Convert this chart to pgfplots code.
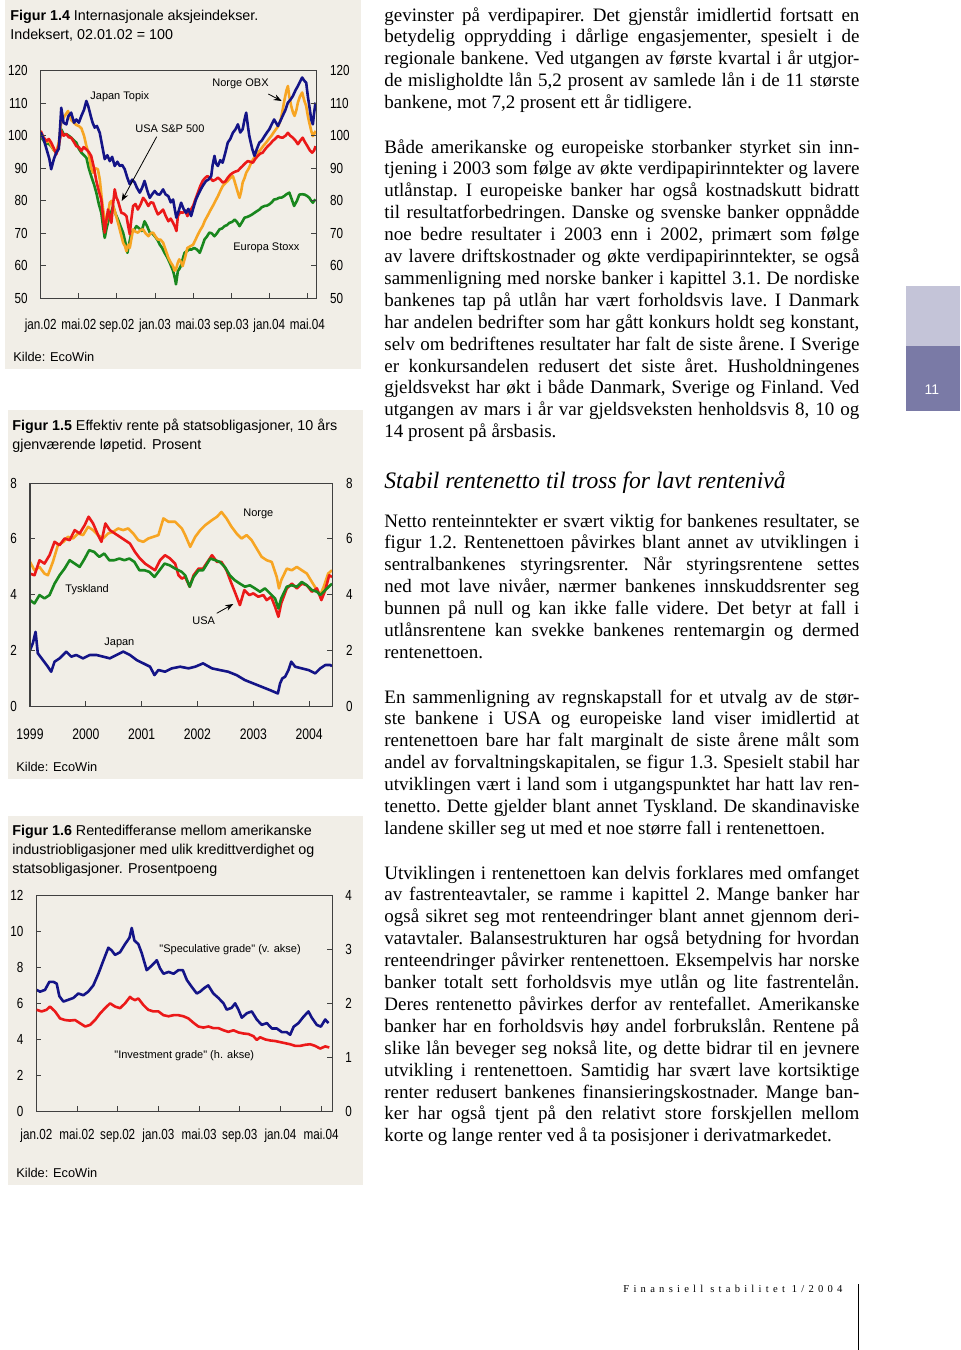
\documentclass[border=0pt]{standalone}
\usepackage{fontspec}
\setmainfont{Liberation Serif}
\newfontfamily\sansf{Liberation Sans}
\newfontfamily\narrowf[FakeStretch=0.8]{Liberation Sans}
\newfontfamily\spacedf[LetterSpace=40]{Liberation Serif}
\usepackage{pgfplots}
\pgfplotsset{compat=1.18}
\usetikzlibrary{arrows.meta}
\definecolor{panel}{RGB}{241,238,231}
\definecolor{cnavy}{RGB}{20,20,135}
\definecolor{cred}{RGB}{235,25,25}
\definecolor{corange}{RGB}{247,165,35}
\definecolor{cgreen}{RGB}{25,135,30}
\definecolor{tablight}{RGB}{196,196,216}
\definecolor{tabdark}{RGB}{122,122,166}
\newcommand\tickfont{\fontsize{7.3}{8}\selectfont\narrowf}
\newcommand\annot{\fontsize{5.5}{6.5}\selectfont\sansf}
\newcommand\titlef{\fontsize{7.15}{9.7}\selectfont\sansf}
\newcommand\kildef{\fontsize{6.4}{7}\selectfont\sansf}
\newcommand\bodyf{\fontsize{9.5}{10.95}\selectfont\rmfamily\frenchspacing}
\newcommand\jl[1]{{\spaceskip=0pt\xspaceskip=0pt\makebox[237.5pt][s]{#1}}}
\newcommand\nl[1]{{\spaceskip=0pt\xspaceskip=0pt #1}}
\pgfplotsset{panelax/.style={scale only axis, anchor=south west,
  axis line style={black!75,line width=0.5pt},
  tick style={black!75,line width=0.5pt}, major tick length=2.5pt,
  tick label style={font=\tickfont},
  /pgf/number format/assume math mode=true,
  /pgf/number format/1000 sep={}},
  lineA/.style={line width=1.3pt, line join=round}}
\begin{document}
\begin{tikzpicture}
\path[use as bounding box] (0,0) rectangle (480pt,-675pt);
\begin{scope}[x=0.5pt,y=-0.5pt]
\fill[panel] (5,0) rectangle (361,369);
\fill[panel] (8,410) rectangle (363,779);
\fill[panel] (8,816) rectangle (363,1185);
\end{scope}

% ---------------- Figur 1.4 ----------------
\begin{axis}[panelax, at={(20.35pt,-149.15pt)}, width=137.65pt, height=113.8pt,
  xmin=0, xmax=28.9, ymin=50, ymax=120, ytick={50,60,...,120},
  xtick={0,4,...,28}, xticklabels={jan.02,mai.02,sep.02,jan.03,mai.03,sep.03,jan.04,mai.04},
  xtick pos=left, ytick pos=both, yticklabel pos=left,
  xticklabel style={yshift=-7pt}, yticklabel style={xshift=-3pt}]
\addplot[lineA, cgreen] coordinates {(0,99.9)(0.3,98.5)(0.6,97.5)(0.85,97.5)(1.1,96.8)(1.4,95.5)(1.64,94.8)(1.9,97)(2.16,102)(2.4,100.5)(2.69,100.5)(2.95,100)(3.2,99.4)(3.5,98.5)(3.74,97.9)(4.0,96)(4.27,94.8)(4.55,94)(4.8,93.2)(5.05,90)(5.3,87.6)(5.6,85)(5.84,82.5)(6.1,79)(6.36,76.3)(6.55,72)(6.72,68.6)(6.95,72)(7.14,74.2)(7.35,76)(7.6,78.4)(7.85,76)(8.12,74.2)(8.4,72)(8.65,70.2)(8.9,67)(9.1,64.0)(9.3,67)(9.52,70.2)(9.8,71)(10.05,72.2)(10.35,71.5)(10.6,70.7)(10.9,73.7)(11.2,72)(11.45,70.2)(11.7,70)(11.97,69.1)(12.25,68)(12.5,66.5)(12.75,65.5)(13.0,64.0)(13.3,62.5)(13.55,60.9)(13.75,59.5)(13.9,58.4)(14.1,56)(14.2,54.3)(14.4,58.4)(14.55,59)(14.7,59.9)(14.9,62)(15.1,64)(15.35,64.5)(15.6,65)(15.85,65)(16.1,65.5)(16.4,65)(16.7,64)(16.95,66)(17.2,68.1)(17.45,69)(17.7,70.2)(17.95,70)(18.24,69.1)(18.5,70)(18.77,71.2)(19.05,71.5)(19.3,72.2)(19.55,72.5)(19.8,73.2)(20.1,73.5)(20.35,74.2)(20.6,73.5)(20.87,72.2)(21.15,73.5)(21.4,74.8)(21.65,75)(21.9,75.3)(22.2,75.8)(22.44,76.3)(22.7,76.8)(22.96,77.3)(23.2,78)(23.5,78.4)(23.75,78.5)(24.0,78.9)(24.25,79.5)(24.5,80.4)(24.75,80.5)(25.0,80.9)(25.3,81)(25.55,81.4)(25.8,82)(26.1,82.5)(26.35,80.5)(26.6,78.4)(26.9,80)(27.15,81.9)(27.45,82)(27.7,81.9)(27.95,81.5)(28.2,80.9)(28.4,80)(28.57,79.4)(28.7,80)(28.85,80.4)};
\addplot[lineA, corange] coordinates {(0,100.5)(0.3,99)(0.6,98)(0.9,98.5)(1.1,97)(1.4,95.5)(1.64,95)(1.9,98)(2.16,104.3)(2.5,106)(2.87,107.6)(3.2,104.8)(3.5,104)(3.74,103.3)(4.0,103)(4.27,102.3)(4.55,100)(4.8,96.8)(5.0,95)(5.14,92.8)(5.3,90)(5.5,88.6)(5.75,90)(6.0,89.7)(6.2,86.6)(6.4,81)(6.55,77.3)(6.7,75)(6.9,73.2)(7.05,76)(7.25,79.4)(7.45,80)(7.6,78.4)(7.85,76)(8.12,73.2)(8.4,70)(8.65,67.1)(8.85,66)(9.0,64.5)(9.2,66.5)(9.35,65.5)(9.5,68)(9.7,71.2)(9.95,70.5)(10.2,70.2)(10.5,71)(10.75,71.2)(11.0,70)(11.3,69.1)(11.55,70)(11.8,70.2)(12.05,69)(12.3,68.1)(12.6,68)(12.85,67.1)(13.1,65)(13.4,62.5)(13.65,61)(13.9,59.9)(14.05,58.5)(14.2,58.9)(14.4,61)(14.55,62)(14.75,61)(14.9,59.9)(15.15,62.5)(15.4,65.5)(15.7,66)(16.0,66.5)(16.25,68)(16.5,69.6)(16.75,71)(17.0,72.2)(17.25,74)(17.5,75.3)(17.8,77)(18.07,78.4)(18.35,80)(18.6,81.4)(18.85,83)(19.1,84.5)(19.4,85.5)(19.64,86.1)(19.9,87)(20.17,87.6)(20.35,86)(20.5,84.5)(20.7,82.5)(20.87,80.9)(21.05,83)(21.2,85.6)(21.4,87)(21.57,88.6)(21.85,90)(22.1,91.7)(22.35,93)(22.6,93.8)(22.85,95)(23.1,95.8)(23.4,97)(23.67,97.9)(23.95,99)(24.2,99.9)(24.45,101)(24.7,102)(24.95,103)(25.2,105)(25.4,108)(25.6,111.2)(25.8,114)(25.95,115.3)(26.1,112)(26.3,109.1)(26.5,107)(26.65,106.1)(26.85,108)(27.0,110.2)(27.2,112)(27.45,113.3)(27.65,111)(27.87,109.1)(28.05,106)(28.2,104)(28.4,101.5)(28.57,99.9)(28.7,100.5)(28.85,101.5)};
\addplot[lineA, cred] coordinates {(0,101.5)(0.3,99.5)(0.6,98.4)(0.85,99)(1.1,97.9)(1.4,96)(1.64,94.3)(1.9,97)(2.16,101.5)(2.4,100)(2.69,100.5)(2.95,99.5)(3.2,99.4)(3.5,98)(3.74,96.8)(4.0,96.5)(4.27,95.3)(4.5,96.5)(4.79,95.8)(5.05,95)(5.3,93.8)(5.6,90)(5.84,86.1)(6.1,83)(6.36,80.4)(6.55,75)(6.72,70.2)(6.9,74)(7.07,77.3)(7.25,75)(7.42,73.2)(7.6,79)(7.77,83.5)(7.95,81)(8.12,79.9)(8.3,78)(8.47,76.3)(8.75,76)(9.0,75.3)(9.2,72)(9.35,69.7)(9.5,74)(9.7,78.4)(9.95,79)(10.2,77.3)(10.5,79)(10.75,80.9)(11.0,80)(11.3,78.4)(11.55,79.5)(11.8,79.4)(12.05,77.5)(12.3,75.8)(12.6,76.5)(12.85,77.3)(13.1,75.5)(13.4,73.7)(13.65,74.5)(13.9,73.2)(14.1,72)(14.25,70.7)(14.4,75.3)(14.65,76.5)(14.9,76.3)(15.15,77)(15.4,75.3)(15.7,77)(16.0,78.4)(16.25,80.5)(16.5,82.5)(16.75,84.5)(17.0,86.1)(17.25,87)(17.5,87.6)(17.8,87)(18.07,86.1)(18.35,86.5)(18.6,87.1)(18.85,86.5)(19.1,85.6)(19.4,86)(19.64,87.1)(19.9,88)(20.17,88.6)(20.45,89)(20.7,89.2)(20.95,90)(21.2,90.7)(21.45,91.5)(21.74,92.2)(22.0,92)(22.27,91.7)(22.55,93)(22.8,93.8)(23.05,94.5)(23.3,94.8)(23.6,96)(23.84,96.8)(24.1,97.5)(24.35,98.4)(24.6,99)(24.9,99.9)(25.15,99.5)(25.4,99.4)(25.7,100)(25.95,100.9)(26.2,100)(26.47,99.4)(26.75,98.5)(27.0,97.4)(27.25,98.5)(27.5,99.4)(27.75,98)(28.0,96.8)(28.25,95.5)(28.5,94.8)(28.7,95.5)(28.85,96.8)};
\addplot[lineA, cnavy] coordinates {(0,101)(0.3,99)(0.6,96)(0.9,93)(1.1,89.7)(1.4,93)(1.64,94.8)(1.9,96)(2.16,108.6)(2.4,104)(2.69,103.5)(2.9,106)(3.2,107.1)(3.5,104)(3.74,105)(4.0,104)(4.27,106.1)(4.55,108)(4.79,110.7)(5.0,109)(5.25,106.1)(5.45,104)(5.67,102.5)(5.9,103)(6.2,100.9)(6.45,97)(6.72,92.8)(7.0,94)(7.25,92.2)(7.5,93.5)(7.77,90.7)(8.05,92)(8.3,90.7)(8.55,91)(8.82,89.7)(9.1,87)(9.35,85.1)(9.6,86.5)(9.87,85.6)(10.1,84)(10.4,82.5)(10.65,84)(10.9,86.1)(11.2,83)(11.45,80.9)(11.7,82)(11.97,83)(12.25,82)(12.5,81.9)(12.85,83.5)(13.1,82)(13.4,81.4)(13.65,79.5)(13.9,80.4)(14.1,77)(14.24,74.8)(14.5,77)(14.74,79.4)(15.0,77.5)(15.26,76.3)(15.5,77.5)(15.79,75.3)(16.05,78)(16.3,80.4)(16.55,82)(16.8,83.5)(17.1,85)(17.36,86.1)(17.6,86.5)(17.9,87.6)(18.05,91)(18.24,93.8)(18.4,91.5)(18.6,90.7)(18.85,92.5)(19.1,91.7)(19.4,95)(19.64,97.9)(19.9,99)(20.17,100.9)(20.45,102)(20.7,103.5)(20.95,101)(21.2,102)(21.4,105)(21.57,107.1)(21.75,103)(21.9,99.9)(22.2,96)(22.44,93.8)(22.7,96)(22.96,97.9)(23.2,98.5)(23.5,99.9)(23.75,101)(24.0,102)(24.25,103.5)(24.5,105)(24.7,104)(24.9,103)(25.15,104.5)(25.4,106.1)(25.7,108)(25.95,110.2)(26.2,111)(26.47,112.2)(26.75,114)(27.0,115.3)(27.2,116.5)(27.45,117.9)(27.65,117)(27.87,116.3)(28.05,112)(28.2,109.1)(28.4,105)(28.57,103.5)(28.7,107)(28.85,110.2)};
\end{axis}
\begin{axis}[panelax, at={(20.35pt,-149.15pt)}, width=137.65pt, height=113.8pt,
  xmin=0, xmax=28.9, ymin=50, ymax=120, ytick={50,60,...,120}, xtick=\empty,
  yticklabel pos=right, yticklabel style={xshift=3.5pt}]
\end{axis}

% ---------------- Figur 1.5 ----------------
\begin{axis}[panelax, at={(15pt,-353pt)}, width=151pt, height=111.5pt,
  xmin=1999, xmax=2004.41, ymin=0, ymax=8, ytick={0,2,...,8},
  xtick={1999,2000,...,2004}, xticklabels={1999,2000,2001,2002,2003,2004},
  xtick pos=left, ytick pos=both, yticklabel pos=left,
  xticklabel style={yshift=-8pt, font=\fontsize{7.6}{9}\selectfont\narrowf}, yticklabel style={xshift=-3pt}]
\addplot[lineA, corange] coordinates {(1999.0,5.17)(1999.08,4.87)(1999.17,4.99)(1999.26,4.75)(1999.32,4.69)(1999.41,5.17)(1999.5,5.77)(1999.6,5.89)(1999.68,6.07)(1999.77,6.01)(1999.86,6.19)(1999.95,6.13)(2000.04,6.43)(2000.13,6.31)(2000.22,6.13)(2000.31,6.01)(2000.4,6.19)(2000.49,6.25)(2000.58,6.37)(2000.67,6.31)(2000.76,6.37)(2000.85,6.19)(2000.94,5.95)(2001.03,5.89)(2001.12,6.01)(2001.21,6.07)(2001.3,6.13)(2001.39,6.73)(2001.48,6.61)(2001.6,6.61)(2001.66,6.49)(2001.72,6.37)(2001.78,6.13)(2001.87,5.71)(2001.96,6.07)(2002.05,6.31)(2002.14,6.49)(2002.26,6.67)(2002.35,6.79)(2002.43,6.96)(2002.52,6.73)(2002.61,6.43)(2002.7,6.19)(2002.79,6.01)(2002.88,6.13)(2002.97,5.95)(2003.06,5.65)(2003.15,5.35)(2003.24,5.23)(2003.33,5.17)(2003.42,4.63)(2003.46,4.22)(2003.5,4.51)(2003.6,4.93)(2003.69,4.87)(2003.78,4.99)(2003.87,4.87)(2003.96,4.75)(2004.05,4.45)(2004.14,4.16)(2004.2,3.98)(2004.26,4.27)(2004.34,4.75)(2004.41,4.87)};
\addplot[lineA, cred] coordinates {(1999.0,4.75)(1999.08,4.69)(1999.17,5.23)(1999.26,5.11)(1999.35,5.41)(1999.44,5.89)(1999.53,5.77)(1999.62,6.01)(1999.71,5.95)(1999.8,6.31)(1999.89,6.19)(1999.98,6.49)(2000.05,6.79)(2000.13,6.55)(2000.22,6.13)(2000.28,5.89)(2000.35,6.55)(2000.43,6.31)(2000.52,6.19)(2000.61,6.07)(2000.7,5.95)(2000.79,5.83)(2000.88,5.53)(2000.97,5.29)(2001.06,5.11)(2001.15,4.99)(2001.24,4.87)(2001.33,5.23)(2001.42,5.41)(2001.51,5.29)(2001.6,5.11)(2001.66,4.69)(2001.72,4.57)(2001.78,4.63)(2001.86,4.28)(2001.93,4.69)(2002.02,4.93)(2002.1,4.93)(2002.2,5.23)(2002.26,5.41)(2002.35,5.17)(2002.43,5.17)(2002.52,4.87)(2002.61,4.39)(2002.68,4.04)(2002.76,3.62)(2002.84,4.16)(2002.93,3.98)(2003.0,4.04)(2003.09,3.92)(2003.18,3.98)(2003.24,3.8)(2003.32,3.92)(2003.39,3.56)(2003.45,3.2)(2003.5,3.68)(2003.6,4.22)(2003.69,4.39)(2003.78,4.22)(2003.87,4.39)(2003.96,4.33)(2004.05,4.1)(2004.14,4.22)(2004.22,3.8)(2004.29,4.16)(2004.36,4.69)(2004.41,4.63)};
\addplot[lineA, cgreen] coordinates {(1999.0,3.8)(1999.08,3.68)(1999.17,3.98)(1999.26,3.86)(1999.35,3.98)(1999.44,4.39)(1999.53,4.69)(1999.62,4.93)(1999.71,5.23)(1999.8,5.11)(1999.89,4.99)(1999.98,5.29)(2000.06,5.59)(2000.15,5.53)(2000.24,5.35)(2000.33,5.47)(2000.42,5.23)(2000.51,5.23)(2000.6,5.29)(2000.69,5.23)(2000.78,5.29)(2000.87,5.17)(2000.96,4.87)(2001.05,4.87)(2001.14,4.81)(2001.23,4.63)(2001.32,4.87)(2001.41,5.11)(2001.5,5.05)(2001.6,4.93)(2001.66,4.87)(2001.72,4.81)(2001.78,4.69)(2001.86,4.28)(2001.93,4.63)(2002.02,4.87)(2002.1,4.87)(2002.23,5.29)(2002.32,5.23)(2002.4,5.17)(2002.49,4.99)(2002.58,4.69)(2002.67,4.51)(2002.76,4.39)(2002.85,4.28)(2002.94,4.33)(2003.03,4.22)(2003.12,4.10)(2003.21,4.22)(2003.3,4.04)(2003.39,3.86)(2003.45,3.5)(2003.5,3.86)(2003.6,4.28)(2003.69,4.33)(2003.78,4.28)(2003.87,4.45)(2003.96,4.33)(2004.05,4.16)(2004.14,4.10)(2004.2,3.98)(2004.29,4.16)(2004.41,4.39)};
\addplot[lineA, cnavy] coordinates {(1999.0,2.0)(1999.05,2.25)(1999.1,2.66)(1999.14,1.89)(1999.23,1.65)(1999.32,1.41)(1999.38,1.23)(1999.44,1.59)(1999.53,1.71)(1999.65,1.95)(1999.74,1.77)(1999.83,1.83)(1999.95,1.71)(2000.07,1.83)(2000.19,1.83)(2000.31,1.77)(2000.43,1.71)(2000.55,1.83)(2000.67,1.95)(2000.79,1.83)(2000.91,1.65)(2001.03,1.53)(2001.15,1.41)(2001.23,1.11)(2001.3,1.29)(2001.42,1.23)(2001.54,1.35)(2001.69,1.41)(2001.84,1.35)(2001.96,1.41)(2002.1,1.53)(2002.26,1.35)(2002.4,1.29)(2002.55,1.23)(2002.7,1.11)(2002.85,0.93)(2003.0,0.81)(2003.15,0.69)(2003.3,0.57)(2003.44,0.45)(2003.48,0.81)(2003.52,0.99)(2003.57,1.05)(2003.63,1.29)(2003.68,1.59)(2003.75,1.41)(2003.87,1.35)(2003.99,1.29)(2004.11,1.17)(2004.2,1.35)(2004.29,1.47)(2004.38,1.47)(2004.41,1.43)};
\end{axis}
\begin{axis}[panelax, at={(15pt,-353pt)}, width=151pt, height=111.5pt,
  xmin=1999, xmax=2004.41, ymin=0, ymax=8, ytick={0,2,...,8}, xtick=\empty,
  yticklabel pos=right, yticklabel style={xshift=3.5pt}]
\end{axis}

% ---------------- Figur 1.6 ----------------
\begin{axis}[panelax, at={(18.17pt,-555.5pt)}, width=148pt, height=107.67pt,
  xmin=0, xmax=29.1, ymin=0, ymax=12, ytick={0,2,...,12},
  xtick={0,4,...,28}, xticklabels={jan.02,mai.02,sep.02,jan.03,mai.03,sep.03,jan.04,mai.04},
  xtick pos=left, ytick pos=left,
  xticklabel style={yshift=-5.5pt}, yticklabel style={xshift=-3pt}]
\addplot[lineA, cnavy] coordinates {(0.03,6.75)(0.36,6.65)(0.85,6.75)(1.28,7.2)(1.67,7.2)(2.0,7.1)(2.26,6.4)(2.66,6.1)(3.15,6.2)(3.64,6.3)(4.13,6.55)(4.62,6.45)(5.1,6.65)(5.6,7.0)(6.1,7.65)(6.6,8.4)(7.08,9.1)(7.4,8.95)(7.74,8.7)(8.23,8.85)(8.72,9.3)(9.15,9.65)(9.38,10.2)(9.64,9.5)(10.03,9.3)(10.36,8.8)(10.85,7.85)(11.34,8.1)(11.84,8.4)(12.16,7.95)(12.5,7.65)(13.0,7.75)(13.5,7.65)(13.97,7.85)(14.4,7.85)(14.8,7.3)(15.3,6.9)(15.77,6.55)(16.1,6.65)(16.5,6.85)(16.9,7.0)(17.4,6.55)(17.9,6.3)(18.4,6.0)(18.72,5.65)(19.2,5.75)(19.54,6.0)(19.87,5.65)(20.2,5.2)(20.7,5.45)(21.18,5.55)(21.67,5.1)(22.16,4.8)(22.66,4.9)(23.15,4.6)(23.64,4.6)(24.13,4.4)(24.6,4.4)(24.95,4.25)(25.3,4.7)(25.77,4.9)(26.26,5.25)(26.75,5.55)(27.08,5.2)(27.57,4.8)(27.97,4.7)(28.4,5.1)(28.72,4.9)};
\end{axis}
\begin{axis}[panelax, at={(18.17pt,-555.5pt)}, width=148pt, height=107.67pt,
  xmin=0, xmax=29.1, ymin=0, ymax=4, ytick={0,1,...,4}, xtick=\empty,
  ytick pos=right, yticklabel pos=right, yticklabel style={xshift=3pt}]
\addplot[lineA, cred] coordinates {(0.03,1.88)(0.52,1.85)(1.0,1.88)(1.34,1.94)(1.84,1.85)(2.33,1.72)(2.82,1.69)(3.3,1.68)(3.8,1.69)(4.3,1.63)(4.8,1.57)(5.28,1.60)(5.77,1.69)(6.26,1.81)(6.75,1.91)(7.25,2.0)(7.74,1.94)(8.23,1.91)(8.72,2.0)(9.21,2.12)(9.38,2.09)(9.7,2.06)(10.03,2.09)(10.52,1.97)(11.0,1.88)(11.5,1.85)(12.0,1.85)(12.5,1.78)(13.0,1.76)(13.48,1.78)(13.97,1.78)(14.46,1.76)(14.95,1.72)(15.44,1.64)(15.93,1.57)(16.43,1.55)(16.92,1.57)(17.4,1.54)(17.9,1.54)(18.4,1.50)(18.88,1.47)(19.38,1.50)(19.87,1.46)(20.36,1.44)(20.85,1.43)(21.34,1.39)(21.67,1.32)(22.0,1.37)(22.5,1.33)(23.0,1.31)(23.48,1.30)(23.97,1.28)(24.46,1.26)(24.95,1.24)(25.44,1.21)(25.93,1.21)(26.43,1.23)(26.92,1.24)(27.4,1.21)(27.9,1.16)(28.4,1.20)(28.8,1.18)};
\end{axis}

\begin{scope}[x=0.5pt,y=-0.5pt]
% titles
\node[anchor=base west, inner sep=0, font=\titlef] at (10,20) {\bfseries Figur 1.4\mdseries\ Internasjonale aksjeindekser.};
\node[anchor=base west, inner sep=0, font=\titlef] at (10,39.5) {Indeksert, 02.01.02 = 100};
\node[anchor=base west, inner sep=0, font=\titlef] at (12,430.7) {\bfseries Figur 1.5\mdseries\ Effektiv rente på statsobligasjoner, 10 års};
\node[anchor=base west, inner sep=0, font=\titlef] at (12,449.5) {gjenværende løpetid. Prosent};
\node[anchor=base west, inner sep=0, font=\titlef] at (12,835) {\bfseries Figur 1.6\mdseries\ Rentedifferanse mellom amerikanske};
\node[anchor=base west, inner sep=0, font=\titlef] at (12,854.3) {industriobligasjoner med ulik kredittverdighet og};
\node[anchor=base west, inner sep=0, font=\titlef] at (12,873.5) {statsobligasjoner. Prosentpoeng};
% sources
\node[anchor=base west, inner sep=0, font=\kildef] at (13,361) {Kilde: EcoWin};
\node[anchor=base west, inner sep=0, font=\kildef] at (16,771.7) {Kilde: EcoWin};
\node[anchor=base west, inner sep=0, font=\kildef] at (16,1177.7) {Kilde: EcoWin};
% annotations chart 1
\node[anchor=base west, inner sep=0, font=\annot] at (90,99.3) {Japan Topix};
\node[anchor=base west, inner sep=0, font=\annot] at (135,132.7) {USA S\&P 500};
\node[anchor=base west, inner sep=0, font=\annot] at (212,86) {Norge OBX};
\node[anchor=base west, inner sep=0, font=\annot] at (233,250) {Europa Stoxx};
\draw[line width=0.4pt, -{Stealth[length=4pt,width=3pt]}] (156.7,136.7) -- (121.7,201);
\draw[line width=0.4pt, -{Stealth[length=4pt,width=3pt]}] (268.3,94) -- (281.7,101);
% annotations chart 2
\node[anchor=base west, inner sep=0, font=\annot] at (243,516.7) {Norge};
\node[anchor=base west, inner sep=0, font=\annot] at (65,592.7) {Tyskland};
\node[anchor=base west, inner sep=0, font=\annot] at (192,624) {USA};
\node[anchor=base west, inner sep=0, font=\annot] at (104,645) {Japan};
\draw[line width=0.4pt, -{Stealth[length=4pt,width=3pt]}] (216.7,613.3) -- (233.3,604);
% annotations chart 3
\node[anchor=base west, inner sep=0, font=\annot] at (159,952.7) {"Speculative grade" (v. akse)};
\node[anchor=base west, inner sep=0, font=\annot] at (114,1058.3) {"Investment grade" (h. akse)};

% body text
\node[anchor=base west, inner sep=0, text width=237.5pt, align=left, font=\bodyf] at (384,21) {%
\jl{gevinster på verdipapirer. Det gjenstår imidlertid fortsatt en}\\
\jl{betydelig opprydding i dårlige engasjementer, spesielt i de}\\
\jl{regionale bankene. Ved utgangen av første kvartal i år utgjor-}\\
\jl{de misligholdte lån 5,2 prosent av samlede lån i de 11 største}\\
\nl{bankene, mot 7,2 prosent ett år tidligere.}};
\node[anchor=base west, inner sep=0, text width=237.5pt, align=left, font=\bodyf] at (384,153) {%
\jl{Både amerikanske og europeiske storbanker styrket sin inn-}\\
\jl{tjening i 2003 som følge av økte verdipapirinntekter og lavere}\\
\jl{utlånstap. I europeiske banker har også kostnadskutt bidratt}\\
\jl{til resultatforbedringen. Danske og svenske banker oppnådde}\\
\jl{noe bedre resultater i 2003 enn i 2002, primært som følge}\\
\jl{av lavere driftskostnader og økte verdipapirinntekter, se også}\\
\jl{sammenligning med norske banker i kapittel 3.1. De nordiske}\\
\jl{bankenes tap på utlån har vært forholdsvis lave. I Danmark}\\
\jl{har andelen bedrifter som har gått konkurs holdt seg konstant,}\\
\jl{selv om bedriftenes resultater har falt de siste årene. I Sverige}\\
\jl{er konkursandelen redusert det siste året. Husholdningenes}\\
\jl{gjeldsvekst har økt i både Danmark, Sverige og Finland. Ved}\\
\jl{utgangen av mars i år var gjeldsveksten henholdsvis 8, 10 og}\\
\nl{14 prosent på årsbasis.}};
\node[anchor=base west, inner sep=0, font=\fontsize{11.8}{13}\selectfont\itshape] at (384,488) {Stabil rentenetto til tross for lavt rentenivå};
\node[anchor=base west, inner sep=0, text width=237.5pt, align=left, font=\bodyf] at (384,527) {%
\jl{Netto renteinntekter er svært viktig for bankenes resultater, se}\\
\jl{figur 1.2. Rentenettoen påvirkes blant annet av utviklingen i}\\
\jl{sentralbankenes styringsrenter. Når styringsrentene settes}\\
\jl{ned mot lave nivåer, nærmer bankenes innskuddsrenter seg}\\
\jl{bunnen på null og kan ikke falle videre. Det betyr at fall i}\\
\jl{utlånsrentene kan svekke bankenes rentemargin og dermed}\\
\nl{rentenettoen.}};
\node[anchor=base west, inner sep=0, text width=237.5pt, align=left, font=\bodyf] at (384,703) {%
\jl{En sammenligning av regnskapstall for et utvalg av de stør-}\\
\jl{ste bankene i USA og europeiske land viser imidlertid at}\\
\jl{rentenettoen bare har falt marginalt de siste årene målt som}\\
\jl{andel av forvaltningskapitalen, se figur 1.3. Spesielt stabil har}\\
\jl{utviklingen vært i land som i utgangspunktet har hatt lav ren-}\\
\jl{tenetto. Dette gjelder blant annet Tyskland. De skandinaviske}\\
\nl{landene skiller seg ut med et noe større fall i rentenettoen.}};
\node[anchor=base west, inner sep=0, text width=237.5pt, align=left, font=\bodyf] at (384,879) {%
\jl{Utviklingen i rentenettoen kan delvis forklares med omfanget}\\
\jl{av fastrenteavtaler, se ramme i kapittel 2. Mange banker har}\\
\jl{også sikret seg mot renteendringer blant annet gjennom deri-}\\
\jl{vatavtaler. Balansestrukturen har også betydning for hvordan}\\
\jl{renteendringer påvirker rentenettoen. Eksempelvis har norske}\\
\jl{banker totalt sett forholdsvis mye utlån og lite fastrentelån.}\\
\jl{Deres rentenetto påvirkes derfor av rentefallet. Amerikanske}\\
\jl{banker har en forholdsvis høy andel forbrukslån. Rentene på}\\
\jl{slike lån beveger seg nokså lite, og dette bidrar til en jevnere}\\
\jl{utvikling i rentenettoen. Samtidig har svært lave kortsiktige}\\
\jl{renter redusert bankenes finansieringskostnader. Mange ban-}\\
\jl{ker har også tjent på den relativt store forskjellen mellom}\\
\nl{korte og lange renter ved å ta posisjoner i derivatmarkedet.}};
% tab and footer
\fill[tablight] (906,286) rectangle (960,346);
\fill[tabdark] (906,346) rectangle (960,411);
\node[white, font=\fontsize{7}{8}\selectfont\sansf] at (932,390) {11};
\node[anchor=base west, inner sep=0, font=\fontsize{5.3}{6}\selectfont\spacedf] at (623,1292) {Finansiell stabilitet 1/2004};
\draw[line width=0.5pt] (858.5,1284) -- (858.5,1350);
\end{scope}
\end{tikzpicture}
\end{document}
